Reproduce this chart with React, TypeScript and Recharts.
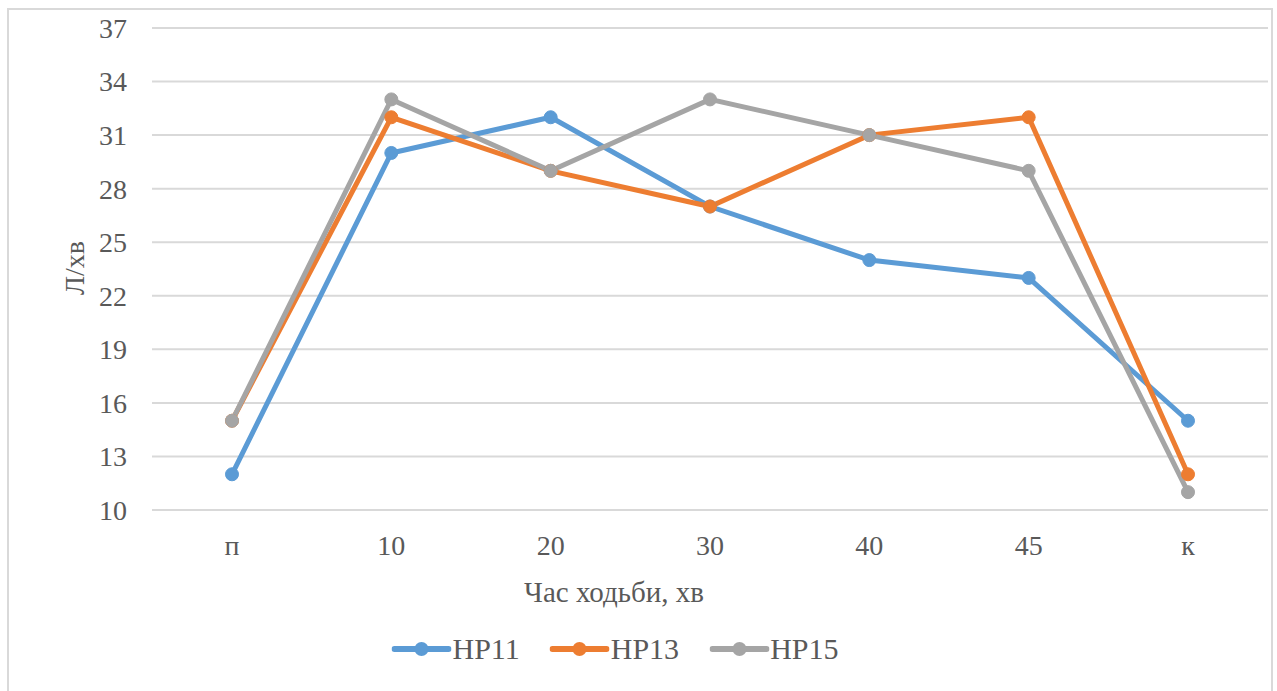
import { LineChart, Line, XAxis, YAxis, CartesianGrid } from "recharts";

const categories = ["п", "10", "20", "30", "40", "45", "к"];
const hp11 = [12, 30, 32, 27, 24, 23, 15];
const hp13 = [15, 32, 29, 27, 31, 32, 12];
const hp15 = [15, 33, 29, 33, 31, 29, 11];
const yTicks = [10, 13, 16, 19, 22, 25, 28, 31, 34, 37];

const SERIES = [
  { key: "HP11", values: hp11, color: "#5B9BD5" },
  { key: "HP13", values: hp13, color: "#ED7D31" },
  { key: "HP15", values: hp15, color: "#A5A5A5" },
];

const data = categories.map((name, i) => {
  const row: Record<string, string | number> = { name };
  SERIES.forEach((s) => (row[s.key] = s.values[i]));
  return row;
});

const FONT = '"Liberation Serif", "Times New Roman", serif';
const TEXT = "#595959";
const GRID = "#D9D9D9";

export default function App() {
  return (
    <div style={{ position: "fixed", left: 0, top: 0, width: 1277, height: 691, background: "#fff", overflow: "hidden", fontFamily: FONT }}>
      <div style={{ position: "absolute", left: 7, top: 8, width: 1262, height: 700, border: `2px solid ${GRID}` }} />
      <div style={{ position: "absolute", left: 0, top: 0 }}>
        <LineChart width={1277} height={691} data={data} margin={{ top: 28, right: 9, left: 0, bottom: 121 }}>
          <CartesianGrid vertical={false} stroke={GRID} strokeWidth={2} />
          <XAxis
            dataKey="name"
            axisLine={{ stroke: GRID, strokeWidth: 2 }}
            tickLine={false}
            tickSize={0}
            tickMargin={25}
            height={60}
            padding={{ left: 80, right: 80 }}
            tick={{ fill: TEXT, fontSize: 28, fontFamily: FONT }}
          />
          <YAxis
            width={152}
            domain={[10, 37]}
            ticks={yTicks}
            axisLine={false}
            tickLine={false}
            tickSize={0}
            tickMargin={25}
            tick={{ fill: TEXT, fontSize: 28, fontFamily: FONT }}
          />
          {SERIES.map((s) => (
            <Line
              key={s.key}
              dataKey={s.key}
              stroke={s.color}
              strokeWidth={5}
              dot={{ r: 6.5, fill: s.color, stroke: s.color, strokeWidth: 1 }}
              isAnimationActive={false}
            />
          ))}
        </LineChart>
      </div>
      {/* axis titles */}
      <div style={{ position: "absolute", left: 75, top: 268, transform: "translate(-50%, -50%) rotate(-90deg)", color: TEXT, fontSize: 28, fontFamily: FONT, whiteSpace: "nowrap" }}>
        Л/хв
      </div>
      <div style={{ position: "absolute", left: 614, top: 592, transform: "translate(-50%, -50%)", color: TEXT, fontSize: 29, fontFamily: FONT, whiteSpace: "nowrap" }}>
        Час ходьби, хв
      </div>
      {/* legend */}
      <div style={{ position: "absolute", left: 615, top: 649, transform: "translate(-50%, -50%)", display: "flex", alignItems: "center", gap: 30, color: TEXT, fontSize: 30, fontFamily: FONT, whiteSpace: "nowrap" }}>
        {SERIES.map((s) => (
          <div key={s.key} style={{ display: "flex", alignItems: "center" }}>
            <svg width={60} height={18} style={{ marginRight: 1 }}>
              <line x1={3} y1={9} x2={57} y2={9} stroke={s.color} strokeWidth={6} strokeLinecap="round" />
              <circle cx={30} cy={9} r={7} fill={s.color} />
            </svg>
            <span>{s.key}</span>
          </div>
        ))}
      </div>
    </div>
  );
}
